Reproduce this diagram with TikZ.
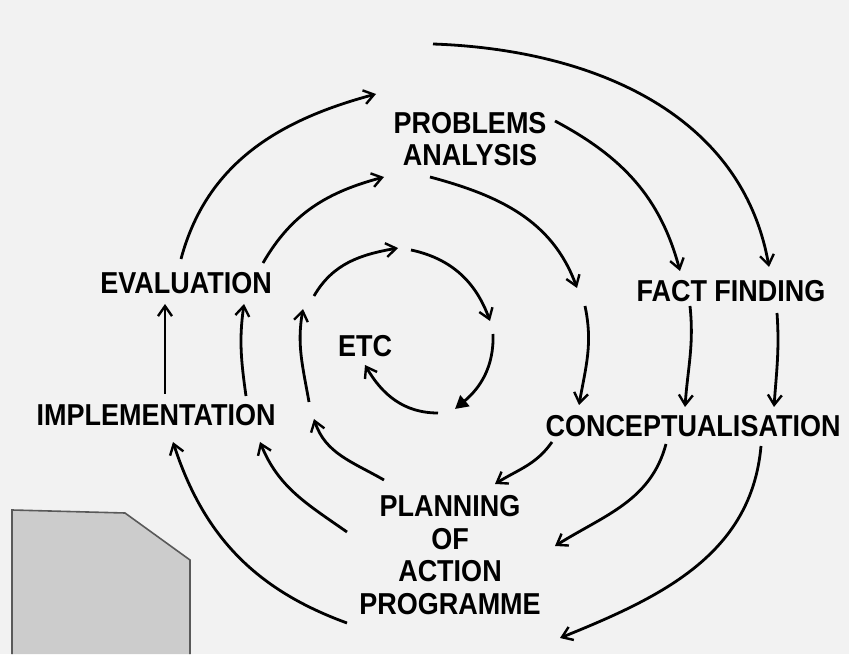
\documentclass[tikz,border=0pt]{standalone}
\usepackage{fontspec}
\setmainfont{Liberation Sans}
\usetikzlibrary{arrows.meta}
\newcommand{\stage}[4]{\node[stage] (#1) at (#2,#3) {#4};}
\newcommand{\turn}[4]{\draw[spiral] (#1) to[out=#3,in=#4] (#2);}

\begin{document}
\begin{tikzpicture}[x=1pt,y=1pt,
	stage/.style={font=\fontsize{27}{29}\selectfont\bfseries,align=center,inner sep=0pt,yscale=1.12,transform shape},
	spiral/.style={line width=2.8pt,-{Straight Barb[length=10pt,width=14pt,line width=2.4pt]}},
	spiralend/.style={line width=2.8pt,-{Triangle[length=13pt,width=14pt]}}]
								% Paper and the grey patch of the scan
								\fill[black!5] (0,0) rectangle (849,654);
								\useasboundingbox (0,0) rectangle (849,654);
								\fill[black!20] (12,0) -- (12,144) -- (125,141) -- (190,94) -- (190,0) -- cycle;
								\draw[black!65,line width=1.6pt] (12,0) -- (12,144) -- (125,141) -- (190,94) -- (190,0);
								
								% Stages of the spiral
								\stage{prob}{470}{515}{PROBLEMS\\ANALYSIS}
								\stage{fact}{731}{363}{FACT FINDING}
								\stage{conc}{693}{228}{CONCEPTUALISATION}
								\stage{plan}{450}{99}{PLANNING\\OF\\ACTION\\PROGRAMME}
								\stage{impl}{156}{239}{IMPLEMENTATION}
								\stage{eval}{186}{371}{EVALUATION}
								\stage{etc}{365}{308}{ETC}
								
								% End points of the turns
								\foreach \n/\x/\y in {o1a/433/610, o1b/769/387, o2a/777/341, o2b/774/247,
									o3a/761/208, o3b/560/16, o4a/347/31, o4b/173/212, o5a/165/260, o5b/165/350,
									o6a/181/395, o6b/376/560,
									m1a/555/533, m1b/680/383, m2a/690/348, m2b/685/247, m3a/666/210, m3b/555/108,
									m4a/347/122, m4b/260/212, m5a/246/258, m5b/244/350, m6a/263/391, m6b/384/477,
									i1a/430/477, i1b/577/366, i2a/585/348, i2b/579/249, i3a/552/212, i3b/495/170,
									i4a/384/174, i4b/314/235, i5a/309/252, i5b/303/345, i6a/314/358, i6b/398/406,
									e1a/411/404, e1b/490/333, e2a/493/320, e2b/455/245, e3a/438/241, e3b/365/289}
									\coordinate (\n) at (\x,\y);
								
								% Outer turn
								\turn{o1a}{o1b}{-2}{100}
								\turn{o2a}{o2b}{-86}{86}
								\turn{o3a}{o3b}{-95}{22}
								\turn{o4a}{o4b}{160}{-72}
								\turn{o5a}{o5b}{90}{-90}
								\turn{o6a}{o6b}{75}{195}
								
								% Middle turn
								\turn{m1a}{m1b}{-28}{105}
								\turn{m2a}{m2b}{-84}{86}
								\turn{m3a}{m3b}{-105}{32}
								\turn{m4a}{m4b}{145}{-68}
								\turn{m5a}{m5b}{98}{-98}
								\turn{m6a}{m6b}{60}{195}
								
								% Inner turn
								\turn{i1a}{i1b}{-15}{110}
								\turn{i2a}{i2b}{-78}{80}
								\turn{i3a}{i3b}{-125}{32}
								\turn{i4a}{i4b}{150}{-72}
								\turn{i5a}{i5b}{100}{-100}
								\turn{i6a}{i6b}{60}{190}
								
								% Centre, down to ETC
								\turn{e1a}{e1b}{-12}{110}
								\draw[spiralend] (e2a) to[out=-88,in=40] (e2b);
								\turn{e3a}{e3b}{180}{-60}
							\end{tikzpicture}
\end{document}
